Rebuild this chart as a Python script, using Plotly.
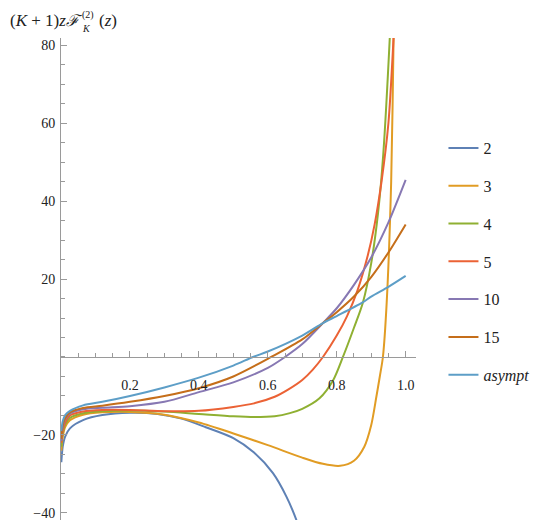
import plotly.graph_objects as go

# values
labels = ["2", "3", "4", "5", "10", "15", "<i>asympt</i>"]
colors = ["#5E81B5", "#E19C24", "#8FB032", "#EB6235", "#8778B3", "#C56E1A", "#5D9EC7"]

z_k2 = [0.001, 0.005, 0.012, 0.026, 0.064, 0.12, 0.2, 0.28, 0.35, 0.42, 0.5, 0.56, 0.615, 0.654, 0.683, 0.71]
y_k2 = [-27, -23, -20.4, -18.3, -16.2, -14.9, -14.3, -14.6, -15.8, -18, -20.8, -24.5, -29.8, -35.8, -41.8, -49]

z_k3 = [0.001, 0.005, 0.012, 0.026, 0.064, 0.12, 0.2, 0.3, 0.4, 0.5, 0.6, 0.7, 0.76, 0.81, 0.85, 0.88,
        0.9, 0.915, 0.925, 0.934, 0.945, 0.958, 0.965, 0.972]
y_k3 = [-24, -20.5, -18, -16.2, -14.8, -14.2, -14.1, -14.8, -16.8, -19.6, -22.6, -25.8, -27.4, -27.9, -26.6, -23,
        -17.5, -10.2, -5, 0, 14, 45, 82, 120]

z_k4 = [0.001, 0.005, 0.012, 0.026, 0.064, 0.12, 0.2, 0.3, 0.4, 0.5, 0.56, 0.62, 0.664, 0.7, 0.75, 0.79,
        0.818, 0.85, 0.876, 0.9, 0.92, 0.935, 0.954, 0.97]
y_k4 = [-23, -19.5, -17.3, -15.6, -14.4, -13.9, -13.7, -14, -14.6, -15.2, -15.4, -15.2, -14.4, -13.3, -10.6, -5.9,
        0, 7.5, 14, 24, 37, 52, 82, 115]

z_k5 = [0.001, 0.005, 0.012, 0.026, 0.064, 0.12, 0.2, 0.3, 0.4, 0.5, 0.56, 0.62, 0.66, 0.7, 0.73, 0.76,
        0.8, 0.83, 0.86, 0.89, 0.91, 0.93, 0.95, 0.965, 0.98]
y_k5 = [-22, -19, -16.8, -15, -14, -13.6, -13.6, -13.9, -13.8, -12.8, -11.9, -10.2, -8.3, -5.9, -3.3, 0,
        5.5, 10.5, 17, 26, 34, 45, 60, 82, 110]

z_k10 = [0.001, 0.005, 0.012, 0.026, 0.064, 0.12, 0.2, 0.3, 0.4, 0.5, 0.6, 0.65, 0.7, 0.76, 0.8, 0.85, 0.9, 0.95, 1.0]
y_k10 = [-21.5, -18, -16, -14.5, -13.4, -13, -12.6, -11.5, -9, -6.5, -2.8, 0, 3.3, 8.7, 12.5, 18.5, 25.5, 34.5, 45.4]

z_k15 = [0.001, 0.005, 0.012, 0.026, 0.064, 0.12, 0.2, 0.3, 0.4, 0.5, 0.61, 0.7, 0.76, 0.8, 0.85, 0.9, 0.95, 1.0]
y_k15 = [-21, -17.5, -15.7, -14.2, -13.1, -12.5, -11.5, -10, -8, -5, 0, 4.5, 8.7, 11.5, 15.5, 20.5, 26.8, 34]

z_asy = [0.001, 0.005, 0.012, 0.026, 0.064, 0.12, 0.2, 0.3, 0.4, 0.5, 0.557, 0.6, 0.7, 0.76, 0.8, 0.875, 0.9, 0.95, 1.0]
y_asy = [-19, -16.5, -14.9, -13.8, -12.4, -11.5, -10, -7.8, -5.3, -2.2, 0, 1.4, 5.5, 8.7, 10.5, 14, 15.5, 18, 20.8]

x_ticks = [0.2, 0.4, 0.6, 0.8, 1.0]
y_ticks = [-40, -20, 20, 40, 60, 80]

series = [(z_k2, y_k2), (z_k3, y_k3), (z_k4, y_k4), (z_k5, y_k5),
          (z_k10, y_k10), (z_k15, y_k15), (z_asy, y_asy)]

SERIF = "Liberation Serif"
AXIS = "#9a9a9a"

fig = go.Figure()
for (zs, ys), name, col in zip(series, labels, colors):
    fig.add_trace(go.Scatter(x=zs, y=ys, mode="lines", name=name, legendgroup=name,
                             line=dict(color=col, width=2, shape="spline", smoothing=0.8)))

# the page body keeps its default 8px margin, so the figure is drawn 8px in
OFF = 8
W, H = 545 - OFF, 527 - OFF
# plot area in page pixels
L, R, T, B = 61, 416.5, 38, 520
xr = [0, 1.03]
yr = [-41.8, 81.8]


def px(x):
    return (x - L) / (R - L)


def py(y):
    return (B - y) / (B - T)


fig.update_layout(
    width=W, height=H,
    margin=dict(l=L - OFF, r=W - (R - OFF), t=T - OFF, b=H - (B - OFF), autoexpand=False),
    paper_bgcolor="white", plot_bgcolor="white",
    font=dict(family=SERIF, color="#222"),
    legend=dict(x=px(444), y=py(131), xanchor="left", yanchor="top",
                font=dict(family=SERIF, size=16, color="#222"),
                tracegroupgap=14, itemwidth=30, bgcolor="rgba(0,0,0,0)"),
    xaxis=dict(range=xr, showgrid=False, zeroline=False, showline=True, automargin=False,
               linecolor=AXIS, linewidth=1, anchor="free",
               position=(0 - yr[0]) / (yr[1] - yr[0]),
               ticks="inside", ticklen=6, tickcolor=AXIS,
               tickvals=x_ticks, ticktext=[f"{v:.1f}" for v in x_ticks],
               minor=dict(ticks="inside", ticklen=3.5, dtick=0.05, tick0=0, tickcolor=AXIS),
               tickfont=dict(family=SERIF, size=14, color="#222"),
               ticklabelstandoff=15),
    yaxis=dict(range=yr, showgrid=False, zeroline=False, showline=True, automargin=False,
               linecolor=AXIS, linewidth=1,
               ticks="inside", ticklen=6, tickcolor=AXIS,
               tickvals=y_ticks, ticktext=[str(v).replace("-", "\u2212") for v in y_ticks],
               minor=dict(ticks="inside", ticklen=3.5, dtick=5, tick0=0, tickcolor=AXIS),
               tickfont=dict(family=SERIF, size=14, color="#222"),
               ticklabelstandoff=2),
)

# axis labels
fig.add_annotation(x=1.064, y=0, xref="x", yref="y", text="<i>z</i>", showarrow=False,
                   font=dict(family=SERIF, size=17, color="#222"), xanchor="center", yanchor="middle")

lab = dict(xref="paper", yref="paper", showarrow=False, xanchor="left", yanchor="middle")
fig.add_annotation(x=px(OFF), y=py(21),
                   text="(<i>K</i> + 1)<i>z</i><span style='font-family:DejaVu Serif;font-size:16px'>"
                        "<i>\u2131</i></span>",
                   font=dict(family=SERIF, size=17, color="#222"), **lab)
fig.add_annotation(x=px(80), y=py(15), text="(2)",
                   font=dict(family=SERIF, size=10, color="#222"), **lab)
fig.add_annotation(x=px(80), y=py(28), text="<i>K</i>",
                   font=dict(family=SERIF, size=10, color="#222"), **lab)
fig.add_annotation(x=px(97), y=py(21), text="(<i>z</i>)",
                   font=dict(family=SERIF, size=17, color="#222"), **lab)

fig.write_html("out.html")
